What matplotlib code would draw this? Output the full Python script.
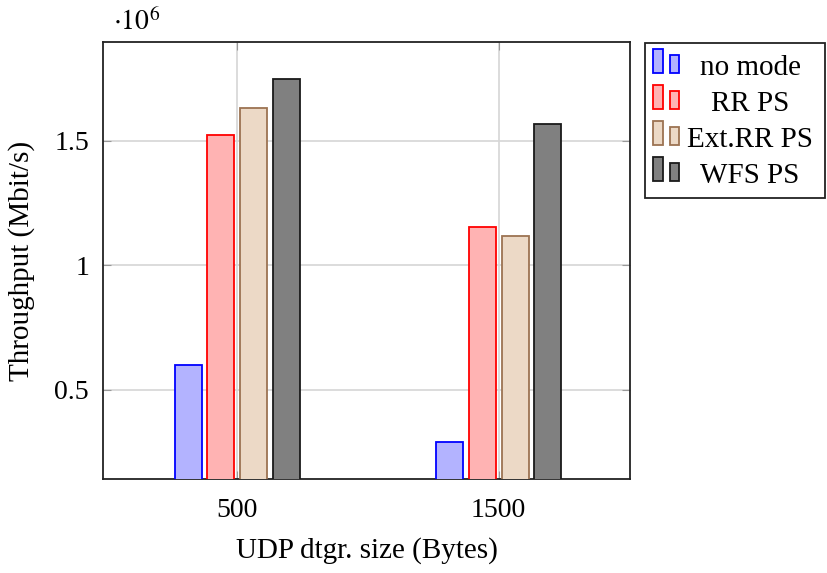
import matplotlib

matplotlib.use("Agg")
import matplotlib.pyplot as plt
from matplotlib.patches import Rectangle

# data (throughput in units of 10^6 Mbit/s)
sizes = [500, 1500]
modes = ["no mode", "RR PS", "Ext.RR PS", "WFS PS"]
no_mode = [0.60, 0.29]
rr_ps = [1.523, 1.153]
ext_rr_ps = [1.632, 1.117]
wfs_ps = [1.751, 1.567]

series = [no_mode, rr_ps, ext_rr_ps, wfs_ps]
fills = ["#b3b3ff", "#ffb3b3", "#ecd9c6", "#808080"]
edges = ["#0000ff", "#ff0000", "#9c7352", "#1a1a1a"]

W, H = 827, 573


def fx(px):
    return px / W


def fy(py):
    return 1 - py / H


plt.rcParams["font.family"] = ["Liberation Serif", "DejaVu Serif"]
plt.rcParams["mathtext.fontset"] = "stix"

fig = plt.figure(figsize=(W / 100, H / 100), dpi=100)
ax = fig.add_axes([fx(103), fy(479), fx(630) - fx(103), fy(42) - fy(479)])

offsets = [-187.5, -62.5, 62.5, 187.5]
for vals, off, fc, ec, name in zip(series, offsets, fills, edges, modes):
    ax.bar([s + off for s in sizes], vals, width=103, color=fc,
           edgecolor=ec, linewidth=1.3, label=name, zorder=3)

ax.set_xlim(-13, 2002)
ax.set_ylim(0.141, 1.898)
ax.set_xticks(sizes)
ax.set_xticklabels([str(s) for s in sizes])
ax.set_yticks([0.5, 1.0, 1.5])
ax.set_yticklabels(["0.5", "1", "1.5"])
ax.grid(True, color="#d6d6d6", linewidth=1.2, zorder=0)
ax.tick_params(axis="both", direction="in", length=6, color="#999999",
               labelsize=20, top=True, right=True)
ax.tick_params(axis="x", pad=14)
ax.tick_params(axis="y", pad=10)
for sp in ax.spines.values():
    sp.set_linewidth(1.3)
    sp.set_color("#222222")

ax.set_xlabel("UDP dtgr. size (Bytes)", fontsize=21, labelpad=10)
ax.set_ylabel("Throughput (Mbit/s)", fontsize=21, labelpad=14)

fig.text(fx(113), fy(22), r"$\cdot10^{6}$", fontsize=20, va="center")

# legend drawn pgfplots style: two small bars + centred text
fig.patches.append(Rectangle((fx(645), fy(198)), fx(825) - fx(645),
                             fy(43) - fy(198), transform=fig.transFigure,
                             facecolor="white", edgecolor="#222222", lw=1.3))
for i, (name, fc, ec) in enumerate(zip(modes, fills, edges)):
    yb = 73 + i * 36
    fig.patches.append(Rectangle((fx(653), fy(yb)), fx(10), fy(0) - fy(24),
                                 transform=fig.transFigure, facecolor=fc,
                                 edgecolor=ec, lw=1.3))
    fig.patches.append(Rectangle((fx(670), fy(yb)), fx(9), fy(0) - fy(18),
                                 transform=fig.transFigure, facecolor=fc,
                                 edgecolor=ec, lw=1.3))
    fig.text(fx(750), fy(yb - 5), name, fontsize=21, ha="center",
             va="center")

fig.savefig("out.png", dpi=100)
